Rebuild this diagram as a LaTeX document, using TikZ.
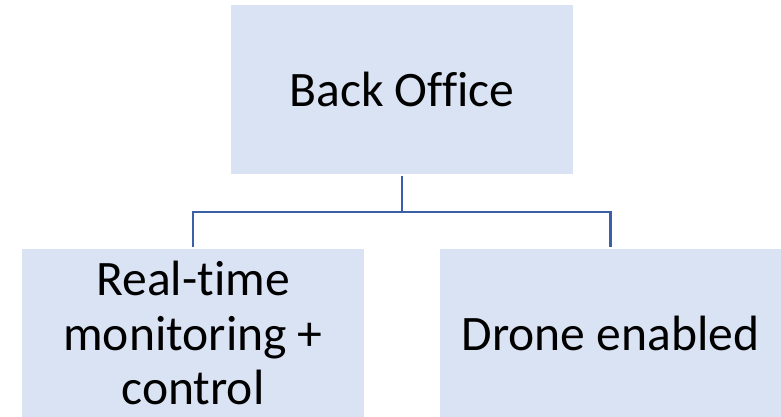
\documentclass[tikz,border=0pt]{standalone}
\usepackage{fontspec}
\setmainfont{Carlito}[Ligatures=NoCommon]
\usetikzlibrary{positioning}

\tikzset{
  orgbox/.style={fill={rgb, 255:red, 218; green, 227; blue, 243 }, draw=none, inner sep=0pt,
    minimum width=256.5pt, minimum height=127pt, align=center,
    font=\fontsize{37.2}{41}\selectfont},
  orglink/.style={color={rgb, 255:red, 60; green, 96; blue, 168 }, line width=1.7pt, shorten >=1.5pt, shorten <=1.5pt}
}

\begin{document}
\begin{tikzpicture}[x=0.75pt,y=0.75pt,yscale=-1,xscale=1]
\useasboundingbox (0,0) rectangle (781,417);

%Shape: Rectangle [Back Office]
\node [orgbox] (office) at (402,89.5) {Back Office};
%Shape: Rectangle [Real-time monitoring]
\node [orgbox, minimum height=126pt] (monitor) at (193,333) {Real-time\\monitoring +\\control};
%Shape: Rectangle [Drone enabled]
\node [orgbox, minimum height=126pt, minimum width=255.75pt] (drone) at (610.5,333) {Drone enabled};

%Straight Lines [connectors]
\coordinate (split) at (402,212);
\draw [orglink, shorten >=0pt] (office.south) -- (split);
\draw [orglink, shorten <=0pt] (split) -| (monitor.north);
\draw [orglink, shorten <=0pt] (split) -| (drone.north);

\end{tikzpicture}
\end{document}
